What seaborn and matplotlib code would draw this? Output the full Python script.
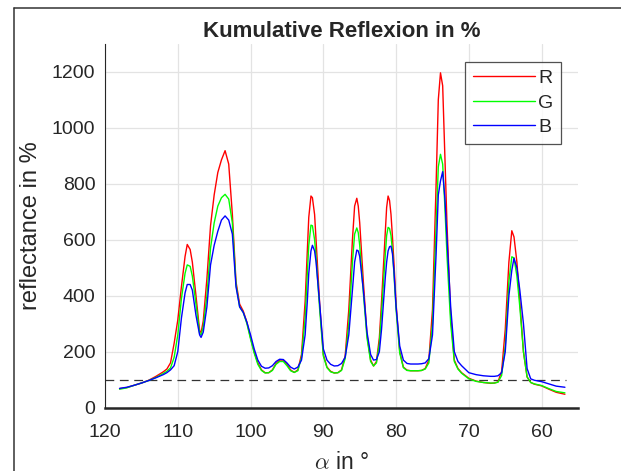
import numpy as np
import pandas as pd
import matplotlib
matplotlib.use("Agg")
import matplotlib.pyplot as plt
from matplotlib.lines import Line2D
import seaborn as sns

# --- data ---
alpha = [118, 117, 116, 115, 114, 113, 112, 111.5, 111, 110.5, 110, 109.5, 109, 108.7, 108.3,
         108, 107.5, 107, 106.8, 106.5, 106, 105.5, 105, 104.5, 104, 103.5, 103, 102.5, 102,
         101.5, 101, 100.5, 100, 99.5, 99, 98.5, 98, 97.5, 97, 96.5, 96, 95.5, 95, 94.5, 94,
         93.5, 93, 92.5, 92.2, 92, 91.7, 91.5, 91.2, 91, 90.5, 90, 89.5, 89, 88.5, 88, 87.5,
         87, 86.5, 86, 85.7, 85.4, 85.2, 85, 84.5, 84, 83.5, 83.1, 82.7, 82.3, 82, 81.5, 81.3,
         81.1, 80.9, 80.7, 80.5, 80.3, 80, 79.5, 79, 78.5, 78, 77, 76.5, 76, 75.5, 75, 74.5,
         74.2, 73.9, 73.6, 73.3, 73, 72.5, 72, 71.5, 71, 70, 69, 68, 67, 66.5, 66, 65.5, 65,
         64.5, 64.1, 63.8, 63.4, 63, 62.5, 62, 61.5, 61, 60, 59, 58, 56.8]

refl_r = [68, 72, 80, 88, 98, 112, 128, 138, 160, 230, 313, 432, 540, 583, 565,
          520, 400, 275, 268, 310, 460, 650, 760, 840, 885, 918, 870, 690, 450,
          370, 345, 305, 250, 200, 160, 135, 125, 125, 135, 158, 170, 170, 155, 135, 126,
          135, 190, 380, 560, 680, 756, 750, 690, 600, 370, 190, 145, 130, 124, 125, 135,
          185, 350, 600, 720, 748, 720, 660, 450, 260, 170, 149, 165, 250, 380, 620, 715,
          756, 740, 690, 610, 520, 370, 200, 145, 134, 132, 132, 133, 140, 170, 350, 800,
          1100, 1196, 1150, 900, 650, 330, 170, 140, 125, 105, 95, 90, 87, 88, 92, 130, 280,
          520, 632, 610, 520, 380, 200, 110, 90, 84, 78, 66, 55, 48]

refl_g = [66, 71, 80, 88, 97, 108, 122, 130, 142, 180, 260, 390, 480, 510, 505,
          470, 370, 265, 260, 290, 400, 570, 660, 720, 750, 762, 745, 660, 440,
          360, 340, 300, 245, 195, 155, 133, 124, 125, 133, 155, 165, 165, 150, 132, 126,
          132, 180, 320, 480, 580, 652, 650, 600, 540, 350, 185, 143, 128, 124, 125, 133,
          175, 300, 520, 620, 642, 625, 580, 410, 250, 165, 149, 160, 230, 340, 540, 615,
          644, 640, 615, 560, 480, 350, 195, 143, 133, 132, 132, 133, 138, 160, 300, 650,
          860, 905, 870, 720, 540, 300, 165, 138, 123, 103, 94, 90, 88, 88, 91, 115, 220,
          450, 539, 535, 470, 360, 200, 110, 90, 85, 79, 68, 58, 53]

refl_b = [69, 73, 80, 88, 97, 107, 118, 125, 135, 150, 200, 320, 410, 440, 440,
          420, 330, 260, 251, 270, 360, 510, 580, 630, 670, 685, 670, 620, 432,
          360, 340, 305, 260, 210, 170, 148, 141, 142, 150, 165, 173, 172, 160, 145, 138,
          145, 170, 260, 380, 480, 560, 580, 560, 520, 370, 210, 170, 155, 149, 150, 158,
          180, 260, 420, 520, 563, 560, 540, 420, 270, 190, 170, 172, 200, 280, 460, 520,
          560, 575, 577, 550, 490, 360, 220, 170, 158, 156, 156, 157, 160, 175, 260, 550,
          760, 810, 843, 750, 600, 360, 200, 165, 150, 125, 118, 114, 112, 112, 114, 125, 200,
          400, 491, 534, 500, 420, 300, 140, 103, 98, 93, 85, 77, 73]

channels = ["R", "G", "B"]
line_colors = ["#ff0000", "#00ff00", "#0000ff"]
ref_level = 100

df = pd.DataFrame({"alpha": alpha, "R": refl_r, "G": refl_g, "B": refl_b})
long_df = df.melt(id_vars="alpha", value_vars=channels, var_name="channel", value_name="refl")

sns.set_style("white")
plt.rcParams["font.family"] = ["Liberation Sans", "DejaVu Sans"]
plt.rcParams["mathtext.fontset"] = "cm"

fig = plt.figure(figsize=(6.21, 4.71), dpi=100)
ax = fig.add_axes([0.1691, 0.1344, 0.7617, 0.7728])

sns.lineplot(data=long_df, x="alpha", y="refl", hue="channel", hue_order=channels,
             palette=line_colors, estimator=None, sort=False, linewidth=1.0, ax=ax)

# reference level
ax.plot([120, 56.6], [ref_level, ref_level], color="#333333", linestyle=(0, (7, 4.5)),
        linewidth=0.9, zorder=1)

ax.set_xlim(120, 55)
ax.set_ylim(0, 1300)
ax.set_xticks([120, 110, 100, 90, 80, 70, 60])
ax.set_yticks([0, 200, 400, 600, 800, 1000, 1200])
ax.grid(True, color="#e3e3e3", linewidth=0.9)
ax.set_axisbelow(True)

for side in ["top", "right"]:
    ax.spines[side].set_visible(False)
ax.spines["left"].set_linewidth(0.8)
ax.spines["bottom"].set_linewidth(1.8)
ax.spines["left"].set_color("#262626")
ax.spines["bottom"].set_color("#262626")
ax.tick_params(direction="in", length=3.6, width=1.2, colors="#262626",
               labelsize=14, labelcolor="#262626")
ax.tick_params(axis="x", pad=12)
ax.tick_params(axis="y", pad=7)

ax.set_title("Kumulative Reflexion in %", fontsize=16, fontweight="bold", pad=5)
ax.set_xlabel(r"$\alpha$ in °", fontsize=16.5, color="#262626", labelpad=7)
ax.set_ylabel("reflectance in %", fontsize=17, color="#262626", labelpad=7)

handles, labels = ax.get_legend_handles_labels()
leg = ax.legend(handles, labels, loc="upper right", bbox_to_anchor=(0.964, 0.9505),
                borderaxespad=0, fontsize=14, frameon=True, fancybox=False,
                handlelength=3.2, handletextpad=0.15, labelspacing=0.35,
                borderpad=0.4)
leg.get_frame().set_edgecolor("#262626")
leg.get_frame().set_linewidth(0.9)
for h in leg.get_lines():
    h.set_linewidth(1.0)

# figure frame lines at the left / top edge
fig.add_artist(Line2D([14 / 621, 14 / 621], [0, 1 - 8 / 471], color="#333333", linewidth=1.1))
fig.add_artist(Line2D([14 / 621, 1], [1 - 8 / 471, 1 - 8 / 471], color="#333333", linewidth=1.1))

fig.savefig("out.png", dpi=100)
